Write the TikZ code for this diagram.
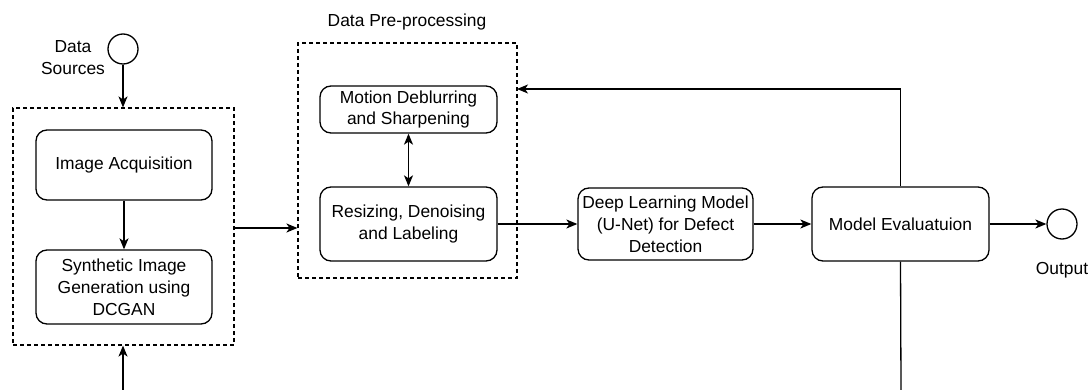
\documentclass[tikz,border=0pt]{standalone}
\usepackage{fontspec}
\setmainfont{Liberation Sans}
\usetikzlibrary{arrows.meta,calc}
\begin{document}
\begin{tikzpicture}[x=1pt,y=-1pt,
  every node/.style={font=\fontsize{17.4}{21.8}\selectfont, align=center, inner sep=0pt},
  line/.style={line width=1.3pt},
  arr/.style={line, -{Stealth[length=11pt,width=9pt,inset=3pt]}},
  darr/.style={line, {Stealth[length=11pt,width=9pt,inset=3pt]}-{Stealth[length=11pt,width=9pt,inset=3pt]}},
  proc/.style={draw, line, rounded corners=11pt},
  grp/.style={draw, line width=1.1pt, dash pattern=on 4pt off 3pt},
  term/.style={draw, line, circle, minimum size=30pt},
]
\useasboundingbox (0,0) rectangle (1091,390);

% input terminal
\node[term] (src) at (123,49) {};
\node (srclabel) at (73,58) {Data\\Sources};

% acquisition group
\node[grp, minimum width=221pt, minimum height=237pt] (grpA) at (123.5,226.5) {};
\node[proc, minimum width=176pt, minimum height=70pt] (acq) at (124,165) {Image Acquisition};
\node[proc, minimum width=176pt, minimum height=74pt] (syn) at (124,287) {Synthetic Image\\Generation using\\DCGAN};

% pre-processing group
\node[grp, minimum width=219pt, minimum height=235pt] (grpB) at (407.5,160.5) {};
\node (pretitle) at (407,22) {Data Pre-processing};
\node[proc, minimum width=177pt, minimum height=47pt] (mot) at (408.5,109.5) {Motion Deblurring\\and Sharpening};
\node[proc, minimum width=177pt, minimum height=74pt] (res) at (408.5,224) {Resizing, Denoising\\and Labeling};

% model and evaluation
\node[proc, minimum width=175pt, minimum height=72pt] (dl) at (665.5,224) {Deep Learning Model\\(U-Net) for Defect\\Detection};
\node[proc, minimum width=177pt, minimum height=74pt] (me) at (900.5,224) {Model Evaluatuion};

% output terminal
\node[term] (out) at (1062,224) {};
\node (outlabel) at (1062,270) {Output};

% connectors
\coordinate (fb) at (517,89);
\coordinate (bl) at (123,390);
\coordinate (br) at (901,390);

\draw[arr] (src) -- (src |- grpA.north);
\draw[arr] (acq) -- (syn);
\draw[arr] ($(grpA.east)+(0,1.5)$) -- ($(grpA.east -| grpB.west)+(0,1.5)$);
\draw[darr] (mot) -- (res);
\draw[arr] (res) -- (dl);
\draw[arr] (dl) -- (me);
\draw[arr] (me) -- (out);
\draw[arr] (me.north) |- (fb);
\draw[line] (me.south) -- (br);
\draw[arr] (bl) -- (bl |- grpA.south);
\end{tikzpicture}
\end{document}
